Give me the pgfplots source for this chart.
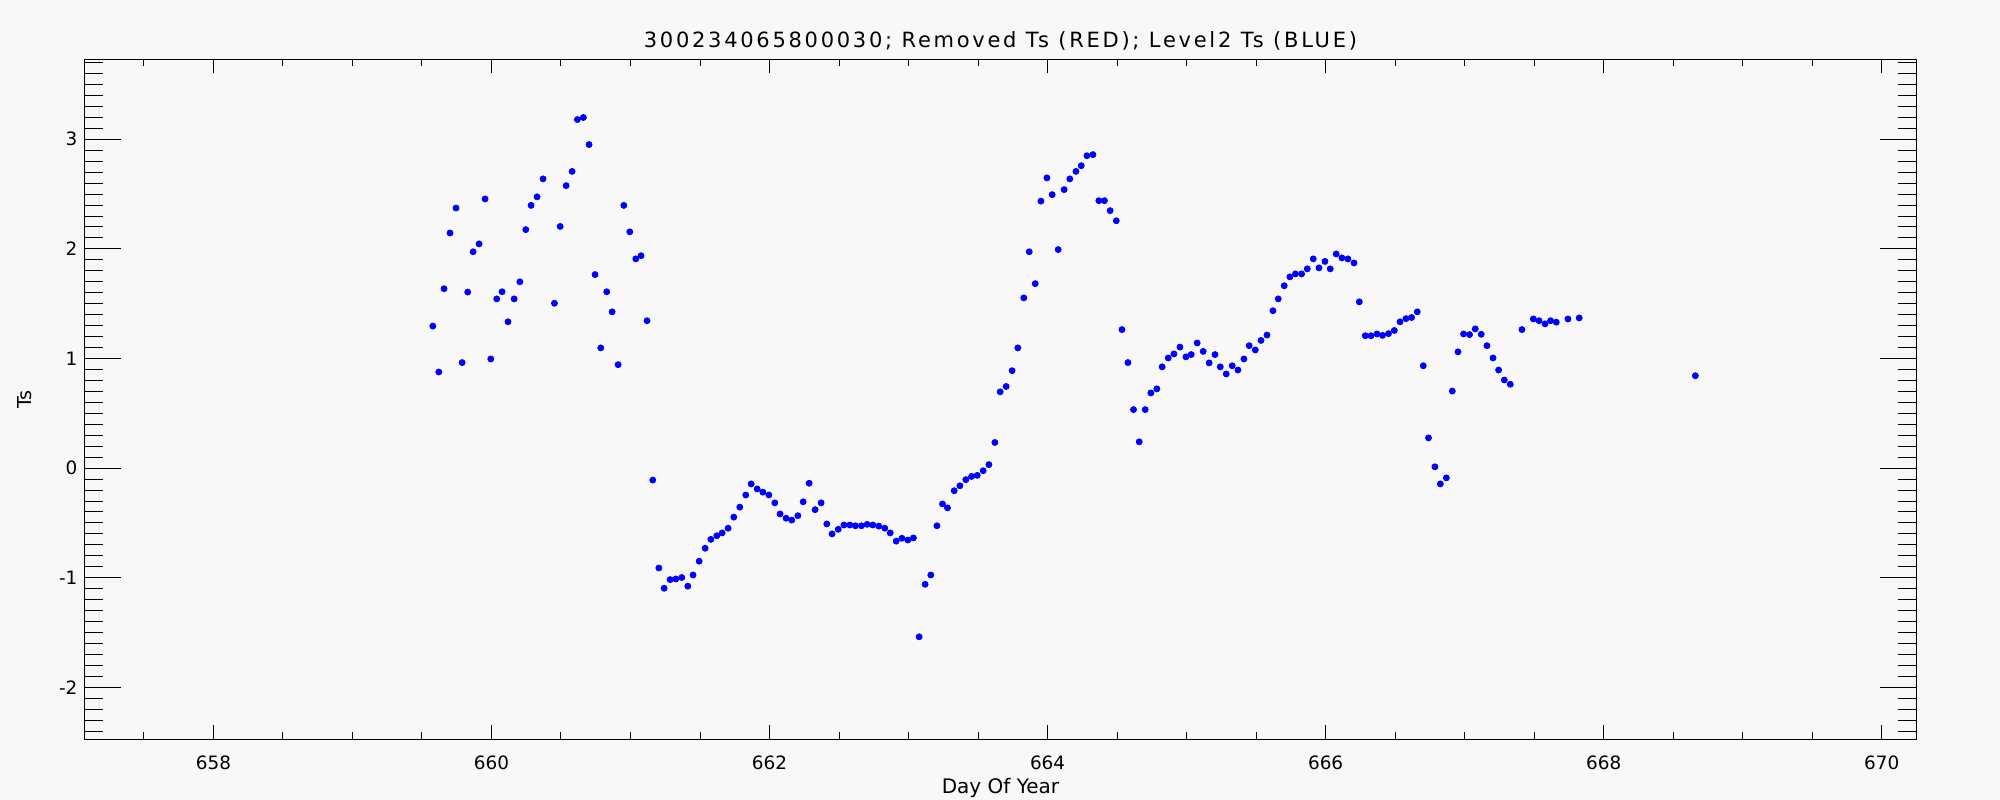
\documentclass[border=0pt]{standalone}
\usepackage{fontspec}
\setmainfont{DejaVu Sans}
\newfontfamily\titlefont[LetterSpace=13]{DejaVu Sans}
\usepackage{pgfplots}
\pgfplotsset{compat=1.18}
\definecolor{bg}{HTML}{F8F8F8}
\definecolor{ptblue}{RGB}{0,0,255}

% shared frame for the two overlaid axes (x ticks / y ticks differ in length)
\pgfplotsset{
  idlbox/.style={
    scale only axis, width=916.05bp, height=340bp,
    xmin=657.072, xmax=670.25, ymin=-2.474, ymax=3.73,
    axis line style={black, line width=0.5bp},
    every tick/.style={black, line width=0.5bp},
    tick align=inside,
    ticklabel style={font=\fontsize{9.2bp}{11bp}\selectfont},
    /pgf/number format/assume math mode=true,
  }
}

\begin{document}
\begin{tikzpicture}
\fill[bg] (-42.2bp,-30.35bp) rectangle (957.8bp,369.65bp);
\begin{axis}[idlbox,
  xtick={658,660,...,670}, minor xtick={657.5,658,...,670},
  major tick length=7bp, minor tick length=3.5bp,
  ytick=\empty,
  xticklabel style={yshift=-5bp},
  title={300234065800030; Removed Ts (RED); Level2 Ts (BLUE)},
  title style={font=\fontsize{10.5bp}{12bp}\titlefont, at={(axis description cs:0.5,1)}, anchor=base},
  xlabel={Day Of Year},
  xlabel style={font=\fontsize{10bp}{12bp}\selectfont, at={(axis description cs:0.5,0)}, anchor=center, yshift=-24.4bp},
  ]
\addplot[only marks, mark=*, mark size=1.5bp, color=ptblue, mark options={draw=ptblue, fill=ptblue}] coordinates {
(659.578,1.296) (659.621,0.877) (659.659,1.637) (659.702,2.145) (659.745,2.373)
(659.789,0.963) (659.829,1.606) (659.868,1.974) (659.911,2.046) (659.954,2.456)
(659.995,0.996) (660.038,1.544) (660.076,1.609) (660.119,1.335) (660.163,1.544)
(660.204,1.700) (660.247,2.176) (660.285,2.397) (660.328,2.475) (660.371,2.639)
(660.453,1.504) (660.494,2.205) (660.537,2.577) (660.580,2.707) (660.618,3.180)
(660.661,3.199) (660.702,2.952) (660.745,1.766) (660.786,1.097) (660.829,1.609)
(660.868,1.426) (660.911,0.944) (660.952,2.397) (660.995,2.156) (661.038,1.909)
(661.076,1.938) (661.119,1.345) (661.160,-0.109) (661.204,-0.911) (661.242,-1.096)
(661.285,-1.017) (661.326,-1.011) (661.369,-0.998) (661.412,-1.077) (661.450,-0.975)
(661.494,-0.849) (661.537,-0.731) (661.578,-0.650) (661.621,-0.617) (661.659,-0.591)
(661.702,-0.548) (661.743,-0.447) (661.786,-0.356) (661.829,-0.245) (661.868,-0.144)
(661.911,-0.190) (661.952,-0.219) (661.995,-0.245) (662.038,-0.317) (662.076,-0.418)
(662.119,-0.457) (662.160,-0.474) (662.204,-0.434) (662.242,-0.307) (662.285,-0.138)
(662.328,-0.379) (662.371,-0.317) (662.412,-0.509) (662.450,-0.600) (662.494,-0.558)
(662.535,-0.519) (662.578,-0.519) (662.618,-0.526) (662.661,-0.526) (662.702,-0.513)
(662.743,-0.519) (662.786,-0.529) (662.829,-0.548) (662.868,-0.591) (662.911,-0.666)
(662.952,-0.640) (662.995,-0.656) (663.035,-0.637) (663.076,-1.539) (663.119,-1.060)
(663.160,-0.975) (663.204,-0.526) (663.244,-0.327) (663.280,-0.363) (663.328,-0.206)
(663.369,-0.161) (663.412,-0.105) (663.453,-0.076) (663.494,-0.066) (663.537,-0.024)
(663.578,0.032) (663.621,0.234) (663.659,0.696) (663.702,0.745) (663.745,0.889)
(663.786,1.097) (663.829,1.553) (663.868,1.974) (663.911,1.683) (663.952,2.436)
(663.995,2.648) (664.033,2.495) (664.076,1.994) (664.119,2.541) (664.160,2.639)
(664.204,2.707) (664.242,2.759) (664.283,2.850) (664.326,2.860) (664.369,2.440)
(664.409,2.440) (664.450,2.349) (664.494,2.257) (664.535,1.264) (664.578,0.963)
(664.618,0.534) (664.659,0.240) (664.702,0.534) (664.743,0.686) (664.786,0.723)
(664.824,0.924) (664.868,1.005) (664.909,1.042) (664.952,1.104) (664.995,1.015)
(665.033,1.036) (665.076,1.142) (665.119,1.065) (665.162,0.960) (665.204,1.036)
(665.242,0.924) (665.285,0.859) (665.328,0.934) (665.369,0.895) (665.412,0.996)
(665.450,1.117) (665.494,1.078) (665.535,1.165) (665.578,1.214) (665.621,1.436)
(665.659,1.544) (665.702,1.664) (665.743,1.745) (665.783,1.772) (665.827,1.772)
(665.868,1.818) (665.911,1.909) (665.952,1.827) (665.995,1.886) (666.033,1.818)
(666.076,1.954) (666.117,1.918) (666.160,1.909) (666.204,1.872) (666.242,1.517)
(666.285,1.208) (666.326,1.208) (666.369,1.224) (666.409,1.211) (666.452,1.227)
(666.494,1.256) (666.535,1.335) (666.578,1.364) (666.618,1.374) (666.659,1.426)
(666.702,0.934) (666.740,0.276) (666.786,0.012) (666.825,-0.144) (666.868,-0.089)
(666.911,0.703) (666.952,1.061) (666.992,1.224) (667.035,1.218) (667.076,1.270)
(667.119,1.221) (667.160,1.117) (667.204,1.005) (667.244,0.895) (667.285,0.804)
(667.328,0.765) (667.412,1.264) (667.494,1.361) (667.535,1.345) (667.578,1.316)
(667.618,1.345) (667.659,1.332) (667.743,1.361) (667.824,1.370) (668.659,0.843)
};
\end{axis}
\begin{axis}[idlbox,
  xtick=\empty,
  ytick={-2,-1,0,1,2,3}, minor ytick={-2.4,-2.3,...,3.75},
  major tick length=18.5bp, minor tick length=9.5bp,
  ylabel={Ts},
  ylabel style={font=\fontsize{9.6bp}{11bp}\selectfont, at={(axis description cs:0,0.5)}, anchor=center, yshift=30bp},
  ]
\end{axis}
\pgfresetboundingbox
\useasboundingbox (-42.2bp,-30.35bp) rectangle (957.8bp,369.65bp);
\end{tikzpicture}
\end{document}
